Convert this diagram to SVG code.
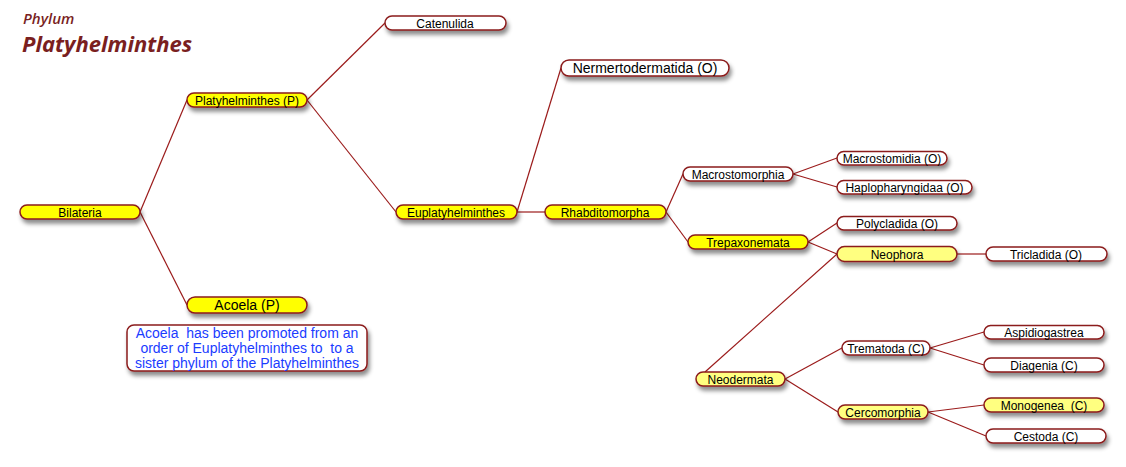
<svg xmlns="http://www.w3.org/2000/svg" width="1126" height="467" viewBox="0 0 1126 467">
<defs>
<filter id="sh" x="-20%" y="-50%" width="140%" height="250%">
<feDropShadow dx="2" dy="4" stdDeviation="2" flood-color="#000" flood-opacity="0.45"/>
</filter>
</defs>
<style>
.n{stroke:#8b1a1a;stroke-width:1.5;filter:url(#sh)}
.y{fill:#ffff00}
.l{fill:#ffff80}
.w{fill:#ffffff}
.t{font-family:"Liberation Sans",Arial,sans-serif;font-size:12px;fill:#000;text-anchor:middle;white-space:pre}
.b{font-size:14px}
.c line{stroke:#9b1b1b;stroke-width:1.2}
.note{font-family:"Liberation Sans",Arial,sans-serif;font-size:14px;fill:#1a3cff;text-anchor:middle;white-space:pre}
.ti{font-family:"Open Sans","DejaVu Sans",sans-serif;font-style:italic;fill:#7a1f1f}
</style>
<rect width="1126" height="467" fill="#fff"/>
<text class="ti" x="23" y="24" font-size="15" font-weight="600">Phylum</text>
<text class="ti" x="22" y="52" font-size="22" font-weight="bold">Platyhelminthes</text>
<g class="c" id="connectors">
<line x1="140" y1="212" x2="187" y2="100"/>
<line x1="140" y1="212" x2="187" y2="305"/>
<line x1="307" y1="100" x2="385" y2="23"/>
<line x1="307" y1="100" x2="396" y2="212"/>
<line x1="517" y1="212" x2="561" y2="68"/>
<line x1="517" y1="212" x2="545" y2="212"/>
<line x1="666" y1="212" x2="683" y2="174"/>
<line x1="666" y1="212" x2="688" y2="242"/>
<line x1="793" y1="174" x2="837" y2="158"/>
<line x1="793" y1="174" x2="837" y2="187"/>
<line x1="808" y1="242" x2="837" y2="223"/>
<line x1="808" y1="242" x2="837" y2="254"/>
<line x1="957" y1="254" x2="986" y2="254"/>
<line x1="837" y1="254" x2="705" y2="372"/>
<line x1="785" y1="379" x2="842" y2="348"/>
<line x1="785" y1="379" x2="838" y2="412"/>
<line x1="930" y1="348" x2="984" y2="332"/>
<line x1="930" y1="348" x2="984" y2="365"/>
<line x1="928" y1="412" x2="984" y2="405"/>
<line x1="928" y1="412" x2="986" y2="436"/>
</g>
<g id="bilateria"><rect class="n y" x="20" y="205" width="120" height="14" rx="7"/><text class="t" x="80" y="216.5">Bilateria</text></g>
<g id="platyhelminthes"><rect class="n y" x="187" y="93" width="120" height="14" rx="7"/><text class="t" x="247" y="104.5">Platyhelminthes (P)</text></g>
<g id="acoela"><rect class="n y" x="187" y="297" width="120" height="16" rx="8"/><text class="t b" x="247" y="310">Acoela (P)</text></g>
<g id="note"><rect class="n w" x="127" y="325" width="240" height="46" rx="7"/>
<text class="note" x="247" y="338" xml:space="preserve">Acoela  has been promoted from an</text>
<text class="note" x="247" y="353" xml:space="preserve">order of Euplatyhelminthes to  to a</text>
<text class="note" x="247" y="368">sister phylum of the Platyhelminthes</text></g>
<g id="catenulida"><rect class="n w" x="385" y="16" width="121" height="14" rx="7"/><text class="t" x="445" y="27.5">Catenulida</text></g>
<g id="nermertodermatida"><rect class="n w" x="561" y="60" width="168" height="16" rx="8"/><text class="t b" x="645" y="73">Nermertodermatida (O)</text></g>
<g id="euplatyhelminthes"><rect class="n y" x="396" y="205" width="121" height="14" rx="7"/><text class="t" x="456" y="216.5">Euplatyhelminthes</text></g>
<g id="rhabditomorpha"><rect class="n y" x="545" y="205" width="121" height="14" rx="7"/><text class="t" x="605" y="216.5">Rhabditomorpha</text></g>
<g id="macrostomorphia"><rect class="n w" x="683" y="167" width="110" height="14" rx="7"/><text class="t" x="738" y="178.5">Macrostomorphia</text></g>
<g id="macrostomidia"><rect class="n w" x="837" y="151.5" width="110" height="13.5" rx="6.75"/><text class="t" x="892" y="162.5">Macrostomidia (O)</text></g>
<g id="haplopharyngidaa"><rect class="n w" x="837" y="180.5" width="135" height="13.5" rx="6.75"/><text class="t" x="904.5" y="191.5">Haplopharyngidaa (O)</text></g>
<g id="polycladida"><rect class="n w" x="837" y="216.5" width="120" height="13.5" rx="6.75"/><text class="t" x="897" y="227.5">Polycladida (O)</text></g>
<g id="trepaxonemata"><rect class="n y" x="688" y="235" width="120" height="14" rx="7"/><text class="t" x="748" y="246.5">Trepaxonemata</text></g>
<g id="neophora"><rect class="n l" x="837" y="246.5" width="120" height="15" rx="7.5"/><text class="t" x="897" y="258.5">Neophora</text></g>
<g id="tricladida"><rect class="n w" x="986" y="247" width="121" height="14" rx="7"/><text class="t" x="1046" y="258.5">Tricladida (O)</text></g>
<g id="neodermata"><rect class="n l" x="696" y="372" width="89" height="14" rx="7"/><text class="t" x="740.5" y="383.5">Neodermata</text></g>
<g id="trematoda"><rect class="n w" x="842" y="341" width="88" height="14" rx="7"/><text class="t" x="886" y="352.5">Trematoda (C)</text></g>
<g id="cercomorphia"><rect class="n l" x="838" y="405" width="90" height="14" rx="7"/><text class="t" x="883" y="416.5">Cercomorphia</text></g>
<g id="aspidiogastrea"><rect class="n w" x="984" y="325.5" width="120" height="13.5" rx="6.75"/><text class="t" x="1044" y="336.5">Aspidiogastrea</text></g>
<g id="diagenia"><rect class="n w" x="984" y="358" width="120" height="14" rx="7"/><text class="t" x="1044" y="369.5">Diagenia (C)</text></g>
<g id="monogenea"><rect class="n l" x="984" y="398" width="120" height="14" rx="7"/><text class="t" x="1044" y="409.5" xml:space="preserve">Monogenea  (C)</text></g>
<g id="cestoda"><rect class="n w" x="986" y="429" width="120" height="14" rx="7"/><text class="t" x="1046" y="440.5">Cestoda (C)</text></g>
</svg>
